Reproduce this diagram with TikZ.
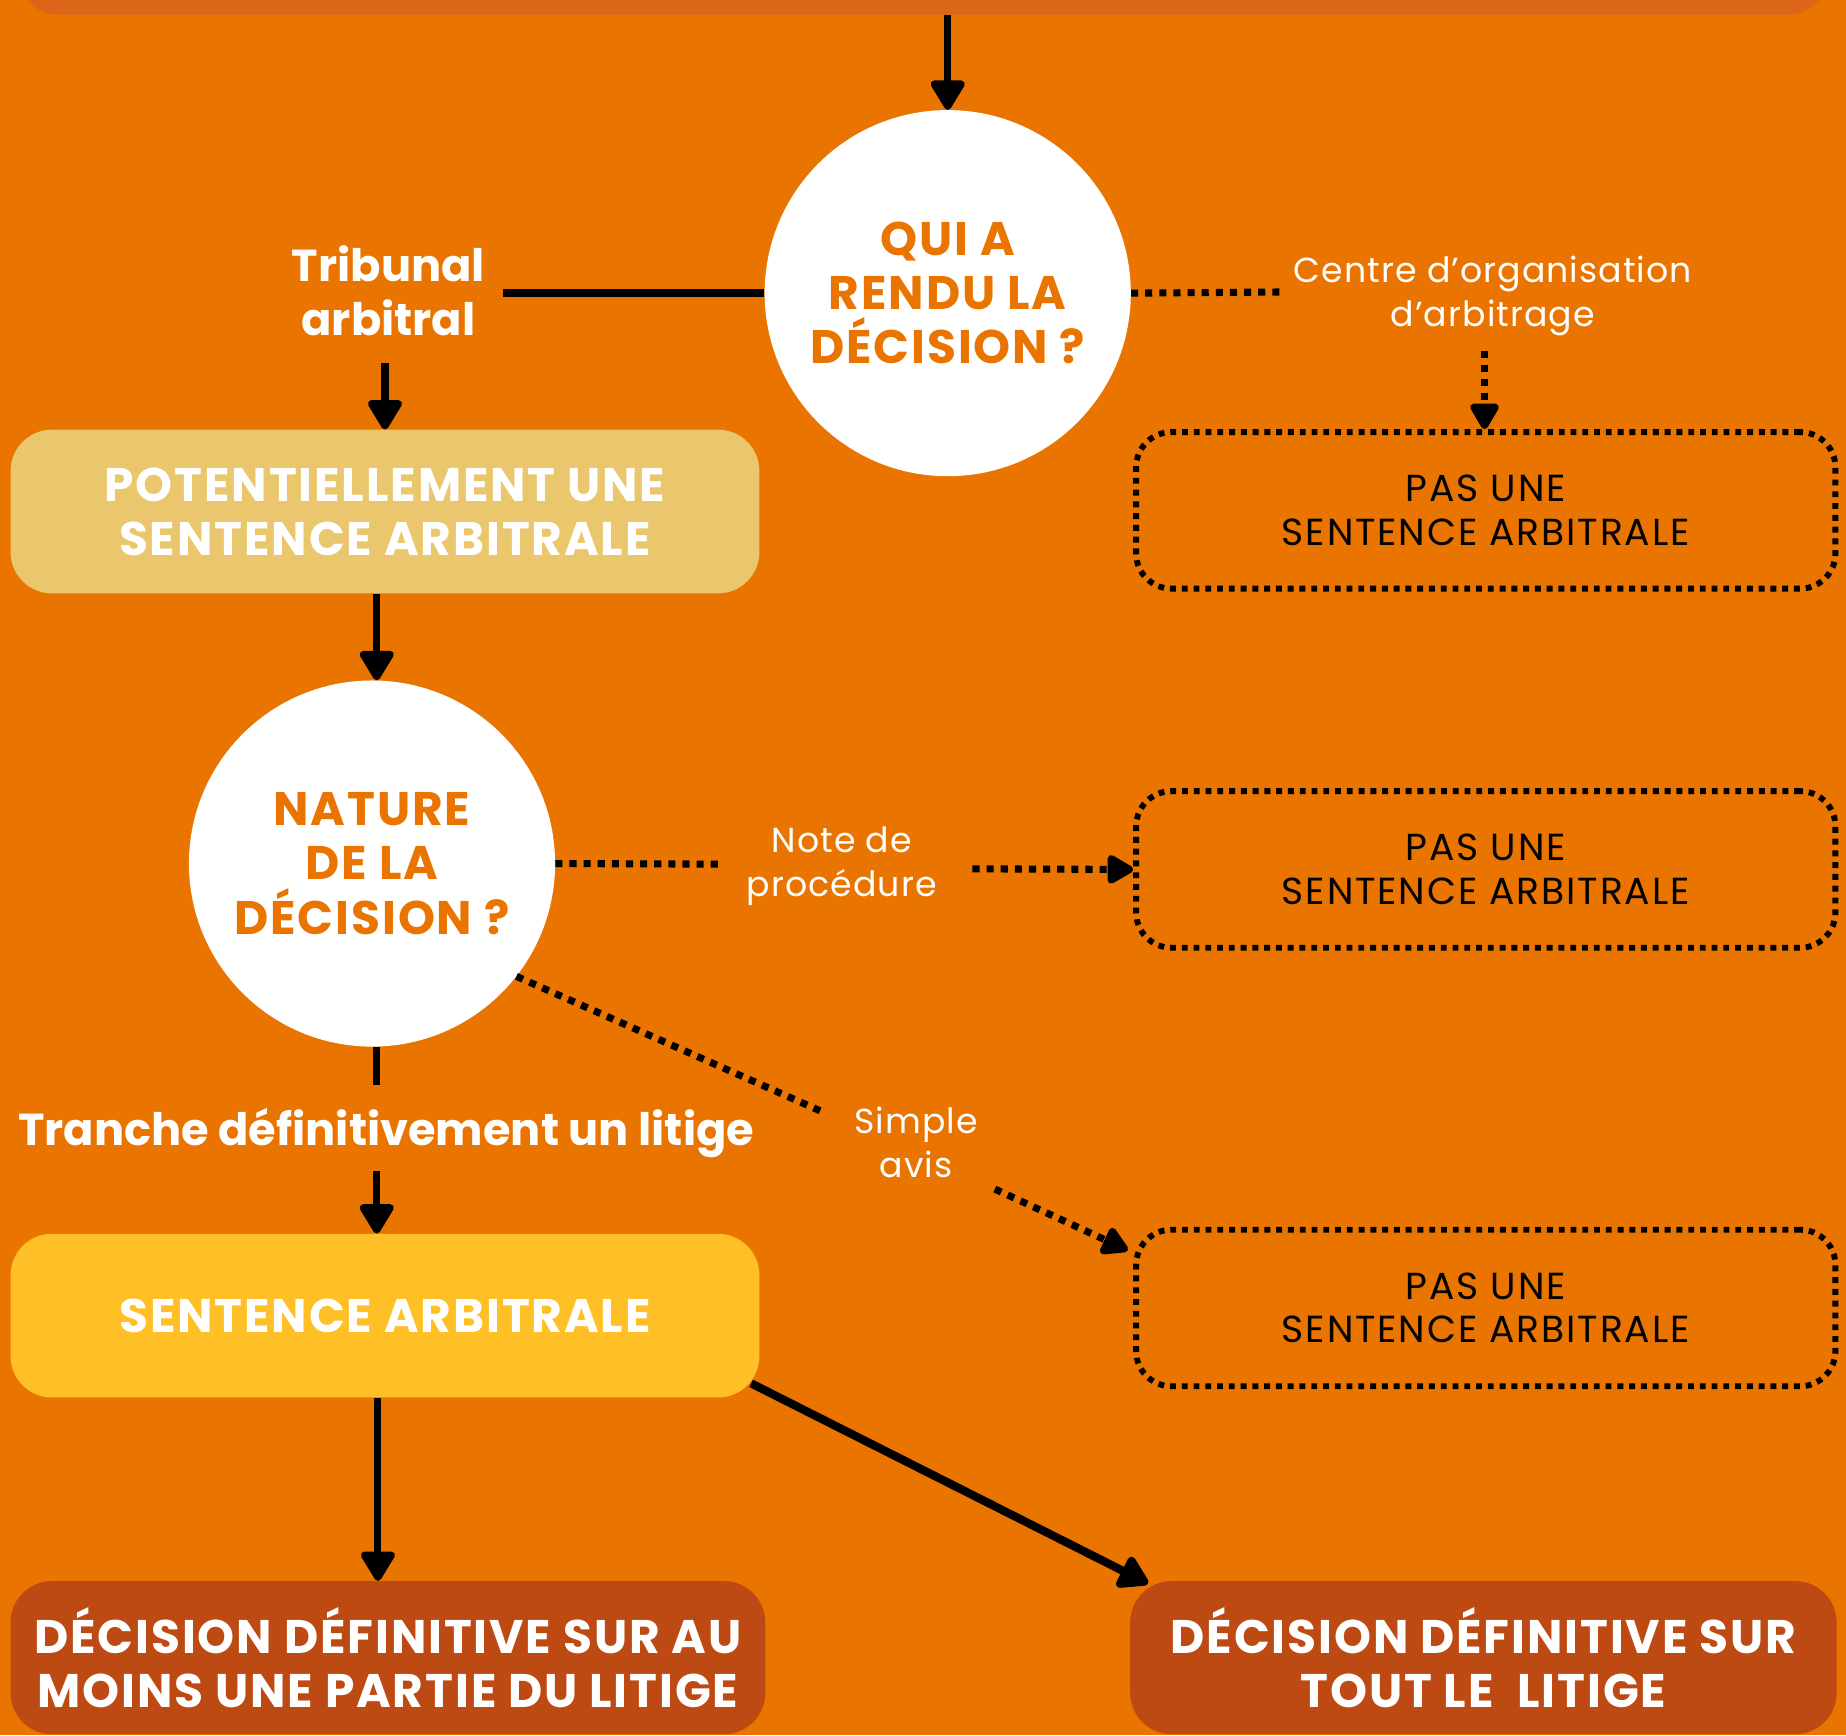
\documentclass[tikz,border=0pt]{standalone}
\usepackage{fontspec}
\setmainfont{Poppins}
\usetikzlibrary{arrows.meta}
\definecolor{bg}{HTML}{EA7400}
\definecolor{topc}{HTML}{DB6518}
\definecolor{pale}{HTML}{EAC76C}
\definecolor{yel}{HTML}{FFC027}
\definecolor{rust}{HTML}{BE4A13}
\begin{document}
\begin{tikzpicture}[x=1pt,y=-1pt,
  capsfont/.style={font=\bfseries\fontsize{40}{46}\selectfont\addfontfeatures{LetterSpace=4}},
  circ/.style={circle, fill=white, minimum size=311pt, inner sep=0pt, text=bg,
    align=center, capsfont},
  fbox/.style={rounded corners=35pt, inner sep=0pt, text=white, align=center, capsfont},
  pasbox/.style={draw=black, line width=5pt, dash pattern=on 5pt off 5pt,
    rounded corners=30pt, minimum width=594pt, minimum height=133pt, inner sep=0pt,
    align=center, font=\fontsize{32}{37}\selectfont\addfontfeatures{LetterSpace=5}, text=black},
  blab/.style={text=white, align=center, font=\bfseries\fontsize{38}{46}\selectfont},
  rlab/.style={text=white, align=center, font=\fontsize{29.5}{37}\selectfont\addfontfeatures{LetterSpace=3}},
  arr/.style={line width=6pt, -{Triangle[width=32pt,length=28pt,round]}},
  solid line/.style={line width=7pt},
  dotl/.style={line width=6pt, dash pattern=on 6pt off 6pt},
  dota/.style={dotl, -{Triangle[width=27pt,length=25pt,round]}}]
\useasboundingbox (0,0) rectangle (1568,1474);
\clip (0,0) rectangle (1568,1474);
\fill[bg] (0,0) rectangle (1568,1474);

% nodes
\node[fbox, fill=topc, minimum width=1538pt, minimum height=105pt] (top) at (784,-40) {};
\node[circ] (q) at (805,249) {QUI A\\RENDU LA\\DÉCISION ?};
\node[blab] (trib) at (330,247) {Tribunal\\arbitral};
\node[rlab] (cent) at (1268,251.5) {Centre d’organisation\\d’arbitrage};
\node[fbox, fill=pale, minimum width=636pt, minimum height=139pt] (pot) at (327,434.5)
  {POTENTIELLEMENT UNE\\SENTENCE ARBITRALE};
\node[pasbox] (pas1) at (1262,433.5) {PAS UNE\\SENTENCE ARBITRALE};
\node[circ] (nat) at (316,733.5) {NATURE\\DE LA\\DÉCISION ?};
\node[rlab] (note) at (715,735.5) {Note de\\procédure};
\node[pasbox] (pas2) at (1262,738.5) {PAS UNE\\SENTENCE ARBITRALE};
\node[blab] (tranche) at (328,962) {Tranche définitivement un litige};
\node[rlab] (simple) at (778,970.5) {Simple\\avis};
\node[pasbox] (pas3) at (1262,1111) {PAS UNE\\SENTENCE ARBITRALE};
\node[fbox, fill=yel, minimum width=636pt, minimum height=139pt] (sent) at (327,1117.5)
  {SENTENCE ARBITRALE};
\node[fbox, fill=rust, minimum width=641pt, minimum height=130pt] (dl) at (329.5,1408)
  {DÉCISION DÉFINITIVE SUR AU\\MOINS UNE PARTIE DU LITIGE};
\node[fbox, fill=rust, minimum width=600pt, minimum height=130pt] (dr) at (1260,1408)
  {DÉCISION DÉFINITIVE SUR\\TOUT LE\ \ LITIGE};

% free ends
\coordinate (t1) at (427,249);
\coordinate (t2) at (327,308);
\coordinate (c1) at (1090,248);
\coordinate (c2) at (1261,298);
\coordinate (n1) at (612,734);
\coordinate (n2) at (826,738);
\coordinate (s1) at (700,945);
\coordinate (s2) at (845,1010);
\coordinate (s3) at (958,1062);
\coordinate (r1) at (320,922);
\coordinate (r2) at (320,995);
\coordinate (d1) at (638,1175);
\coordinate (d2) at (975,1345);

% connectors
\draw[arr] (top.south -| q.north) -- (q.north);
\draw[solid line] (q.west) -- (t1);
\draw[arr] (t2) -- (pot.north);
\draw[arr] (pot.south -| 320,0) -- (nat.north -| 320,0);
\draw[dotl] (q.east) -- (c1);
\draw[dota] (c2) -- (pas1.north -| c2);
\draw[dotl] (nat.east) -- (n1);
\draw[dota] (n2) -- (pas2.west);
\draw[dotl] (nat.-38) -- (s1);
\draw[dota] (s2) -- (s3);
\draw[line width=6pt] (nat.south -| r1) -- (r1);
\draw[arr] (r2) -- (sent.north -| r2);
\draw[arr] (sent.south -| 321,0) -- (dl.north -| 321,0);
\draw[arr, line width=7pt] (d1) -- (d2);
\end{tikzpicture}
\end{document}
